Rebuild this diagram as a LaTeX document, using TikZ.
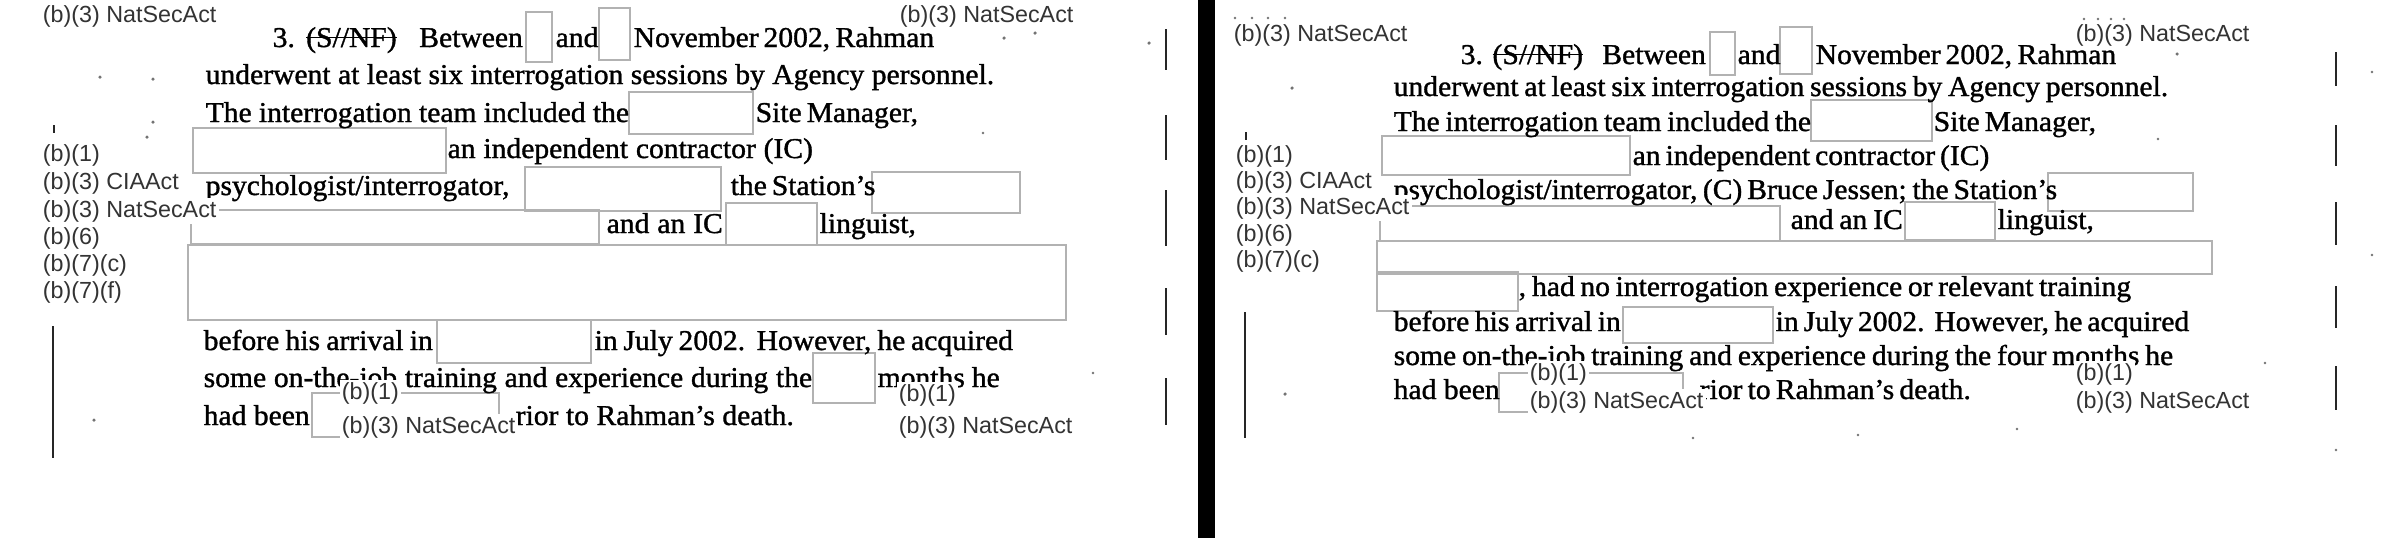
\documentclass[tikz,border=0pt]{standalone}
\usepackage{fontspec}
\setmainfont{Liberation Serif}[FakeStretch=1.03, FakeBold=1.2]
\newfontfamily\labelfont{Liberation Sans}
\usepackage{tikz}
\usetikzlibrary{positioning}
\newsavebox{\strkbox}
\newcommand{\strk}[1]{\sbox{\strkbox}{#1}\rlap{\rule[0.3em]{\wd\strkbox}{0.4pt}}\usebox{\strkbox}}

\begin{document}
\begin{tikzpicture}[x=0.01cm, y=-0.01cm]
        % Define styles
        \tikzstyle{txt} = [anchor=base west, inner sep=0pt, font=\fontsize{8.17}{10}\selectfont]
        \tikzstyle{tag} = [anchor=base west, inner sep=0.6pt, fill=white, text=black!80, font=\labelfont\fontsize{6.63}{8}\selectfont]
        \tikzstyle{redact} = [draw=black!30, line width=0.45pt]
        \tikzstyle{rule} = [line width=0.6pt, black!85]
        \tikzstyle{speck} = [black!55]

        \useasboundingbox (0,0) rectangle (2403,538);

        % Divider between the two scans
        \fill[black] (1198,0) rectangle (1215,538);

        % Left scan - redaction boxes
        \draw[redact] (526,12) rectangle (552,62);
        \draw[redact] (599,8) rectangle (630,60);
        \draw[redact] (629,92) rectangle (753,134);
        \draw[redact] (193,128) rectangle (446,173);
        \draw[redact] (525,167) rectangle (721,211);
        \draw[redact] (872,172) rectangle (1020,213);
        \draw[redact] (191,210) rectangle (599,244);
        \draw[redact] (726,203) rectangle (817,245);
        \draw[redact] (188,245) rectangle (1066,320);
        \draw[redact] (437,320) rectangle (591,363);
        \draw[redact] (813,353) rectangle (875,403);
        \draw[redact] (312,393) rectangle (499,437);

        % Left scan - text lines
        \node[txt] (a1) at (272,47) {\makebox[2.50cm][s]{3.\ \strk{(S//NF)}\ \ Between}};
        \node[txt] (a2) at (555,47) {and};
        \node[txt] (a3) at (633,47) {\makebox[3.00cm][s]{November 2002, Rahman}};
        \node[txt] (a4) at (205,84) {\makebox[7.88cm][s]{underwent at least six interrogation sessions by Agency personnel.}};
        \node[txt] (a5) at (205,122) {\makebox[4.23cm][s]{The interrogation team included the}};
        \node[txt] (a6) at (755,122) {\makebox[1.60cm][s]{Site Manager,}};
        \node[txt] (a7) at (447,158) {\makebox[3.65cm][s]{an independent contractor (IC)}};
        \node[txt] (a8) at (205,195) {psychologist/interrogator,};
        \node[txt] (a9) at (730,195) {\makebox[1.41cm][s]{the Station’s}};
        \node[txt] (a10) at (606,233) {\makebox[1.16cm][s]{and an IC}};
        \node[txt] (a11) at (819,233) {linguist,};
        \node[txt] (a12) at (203,350) {\makebox[2.29cm][s]{before his arrival in}};
        \node[txt] (a13) at (594,350) {\makebox[4.18cm][s]{in July 2002.\ \ However, he acquired}};
        \node[txt] (a14) at (203,387) {\makebox[6.08cm][s]{some on-the-job training and experience during the}};
        \node[txt] (a15) at (877,387) {\makebox[1.22cm][s]{months he}};
        \node[txt] (a16) at (203,425) {had been};
        \node[txt] (a17) at (515,425) {\makebox[2.78cm][s]{rior to Rahman’s death.}};

        % Left scan - exemption tags
        \node[tag] (ta1) at (40,22) {(b)(3) NatSecAct};
        \node[tag] (ta2) at (897,22) {(b)(3) NatSecAct};
        \node[tag] (ta3) at (40,161) {(b)(1)};
        \node[tag] (ta4) at (40,189) {(b)(3) CIAAct};
        \node[tag] (ta5) at (40,217) {(b)(3) NatSecAct};
        \node[tag] (ta6) at (40,244) {(b)(6)};
        \node[tag] (ta7) at (40,271) {(b)(7)(c)};
        \node[tag] (ta8) at (40,298) {(b)(7)(f)};
        \node[tag] (ta9) at (339,399) {(b)(1)};
        \node[tag] (ta10) at (339,433) {(b)(3) NatSecAct};
        \node[tag] (ta11) at (896,401) {(b)(1)};
        \node[tag] (ta12) at (896,433) {(b)(3) NatSecAct};

        % Left scan - margin rules
        \draw[rule] (53,326) -- (53,458);
        \draw[rule] (1166,29) -- (1166,70);
        \draw[rule] (1166,115) -- (1166,160);
        \draw[rule] (1166,190) -- (1166,246);
        \draw[rule] (1166,288) -- (1166,335);
        \draw[rule] (1166,378) -- (1166,425);
        \draw[rule, line width=0.4pt] (54,125) -- (54,133);

        % Left scan - specks
        \fill[speck] (100,77) circle[radius=0.5pt];
        \fill[speck] (153,79) circle[radius=0.5pt];
        \fill[speck] (153,122) circle[radius=0.5pt];
        \fill[speck] (147,137) circle[radius=0.5pt];
        \fill[speck] (94,420) circle[radius=0.5pt];
        \fill[speck] (1004,38) circle[radius=0.5pt];
        \fill[speck] (1035,33) circle[radius=0.5pt];
        \fill[speck] (1149,43) circle[radius=0.5pt];
        \fill[speck] (983,133) circle[radius=0.4pt];
        \fill[speck] (1093,373) circle[radius=0.4pt];

        % Right scan - redaction boxes
        \draw[redact] (1710,32) rectangle (1735,75);
        \draw[redact] (1780,27) rectangle (1812,74);
        \draw[redact] (1811,100) rectangle (1932,141);
        \draw[redact] (1382,136) rectangle (1630,175);
        \draw[redact] (2048,173) rectangle (2193,211);
        \draw[redact] (1380,206) rectangle (1780,241);
        \draw[redact] (1905,202) rectangle (1995,240);
        \draw[redact] (1377,241) rectangle (2212,274);
        \draw[redact] (1377,272) rectangle (1518,311);
        \draw[redact] (1623,307) rectangle (1773,343);
        \draw[redact] (1499,373) rectangle (1683,412);

        % Right scan - text lines
        \node[txt] (b1) at (1460,64) {\makebox[2.45cm][s]{3.\ \strk{(S//NF)}\ \ Between}};
        \node[txt] (b2) at (1737,64) {and};
        \node[txt] (b3) at (1815,64) {\makebox[2.93cm][s]{November 2002, Rahman}};
        \node[txt] (b4) at (1393,96) {\makebox[7.74cm][s]{underwent at least six interrogation sessions by Agency personnel.}};
        \node[txt] (b5) at (1393,131) {\makebox[4.17cm][s]{The interrogation team included the}};
        \node[txt] (b6) at (1933,131) {\makebox[1.57cm][s]{Site Manager,}};
        \node[txt] (b7) at (1632,165) {\makebox[3.56cm][s]{an independent contractor (IC)}};
        \node[txt] (b8) at (1393,199) {\makebox[6.55cm][s]{psychologist/interrogator, (C) Bruce Jessen; the Station’s}};
        \node[txt] (b9) at (1790,229) {\makebox[1.12cm][s]{and an IC}};
        \node[txt] (b10) at (1997,229) {linguist,};
        \node[txt] (b11) at (1518,296) {\makebox[6.12cm][s]{, had no interrogation experience or relevant training}};
        \node[txt] (b12) at (1393,331) {\makebox[2.27cm][s]{before his arrival in}};
        \node[txt] (b13) at (1775,331) {\makebox[4.10cm][s]{in July 2002.\ \ However, he acquired}};
        \node[txt] (b14) at (1393,365) {\makebox[7.79cm][s]{some on-the-job training and experience during the four months he}};
        \node[txt] (b15) at (1393,399) {had been};
        \node[txt] (b16) at (1699,399) {\makebox[2.71cm][s]{rior to Rahman’s death.}};

        % Right scan - exemption tags
        \node[tag] (tb1) at (1231,41) {(b)(3) NatSecAct};
        \node[tag] (tb2) at (2073,41) {(b)(3) NatSecAct};
        \node[tag] (tb3) at (1233,162) {(b)(1)};
        \node[tag] (tb4) at (1233,188) {(b)(3) CIAAct};
        \node[tag] (tb5) at (1233,214) {(b)(3) NatSecAct};
        \node[tag] (tb6) at (1233,241) {(b)(6)};
        \node[tag] (tb7) at (1233,267) {(b)(7)(c)};
        \node[tag] (tb8) at (1527,380) {(b)(1)};
        \node[tag] (tb9) at (1527,408) {(b)(3) NatSecAct};
        \node[tag] (tb10) at (2073,380) {(b)(1)};
        \node[tag] (tb11) at (2073,408) {(b)(3) NatSecAct};

        % Right scan - margin rules
        \draw[rule] (1245,312) -- (1245,438);
        \draw[rule] (2336,52) -- (2336,86);
        \draw[rule] (2336,125) -- (2336,166);
        \draw[rule] (2336,202) -- (2336,245);
        \draw[rule] (2336,286) -- (2336,328);
        \draw[rule] (2336,366) -- (2336,410);
        \draw[rule, line width=0.4pt] (1246,132) -- (1246,140);

        % Right scan - specks
        \fill[speck] (1235,18) circle[radius=0.4pt];
        \fill[speck] (1252,18) circle[radius=0.4pt];
        \fill[speck] (1268,18) circle[radius=0.4pt];
        \fill[speck] (1285,18) circle[radius=0.4pt];
        \fill[speck] (2084,19) circle[radius=0.4pt];
        \fill[speck] (2098,19) circle[radius=0.4pt];
        \fill[speck] (2111,19) circle[radius=0.4pt];
        \fill[speck] (2124,19) circle[radius=0.4pt];
        \fill[speck] (1292,88) circle[radius=0.5pt];
        \fill[speck] (1285,394) circle[radius=0.5pt];
        \fill[speck] (2177,54) circle[radius=0.5pt];
        \fill[speck] (2158,139) circle[radius=0.4pt];
        \fill[speck] (2372,72) circle[radius=0.4pt];
        \fill[speck] (2372,255) circle[radius=0.4pt];
        \fill[speck] (1693,438) circle[radius=0.4pt];
        \fill[speck] (1858,435) circle[radius=0.4pt];
        \fill[speck] (2017,429) circle[radius=0.4pt];
        \fill[speck] (2265,363) circle[radius=0.4pt];
        \fill[speck] (2336,450) circle[radius=0.4pt];

    \end{tikzpicture}
\end{document}
